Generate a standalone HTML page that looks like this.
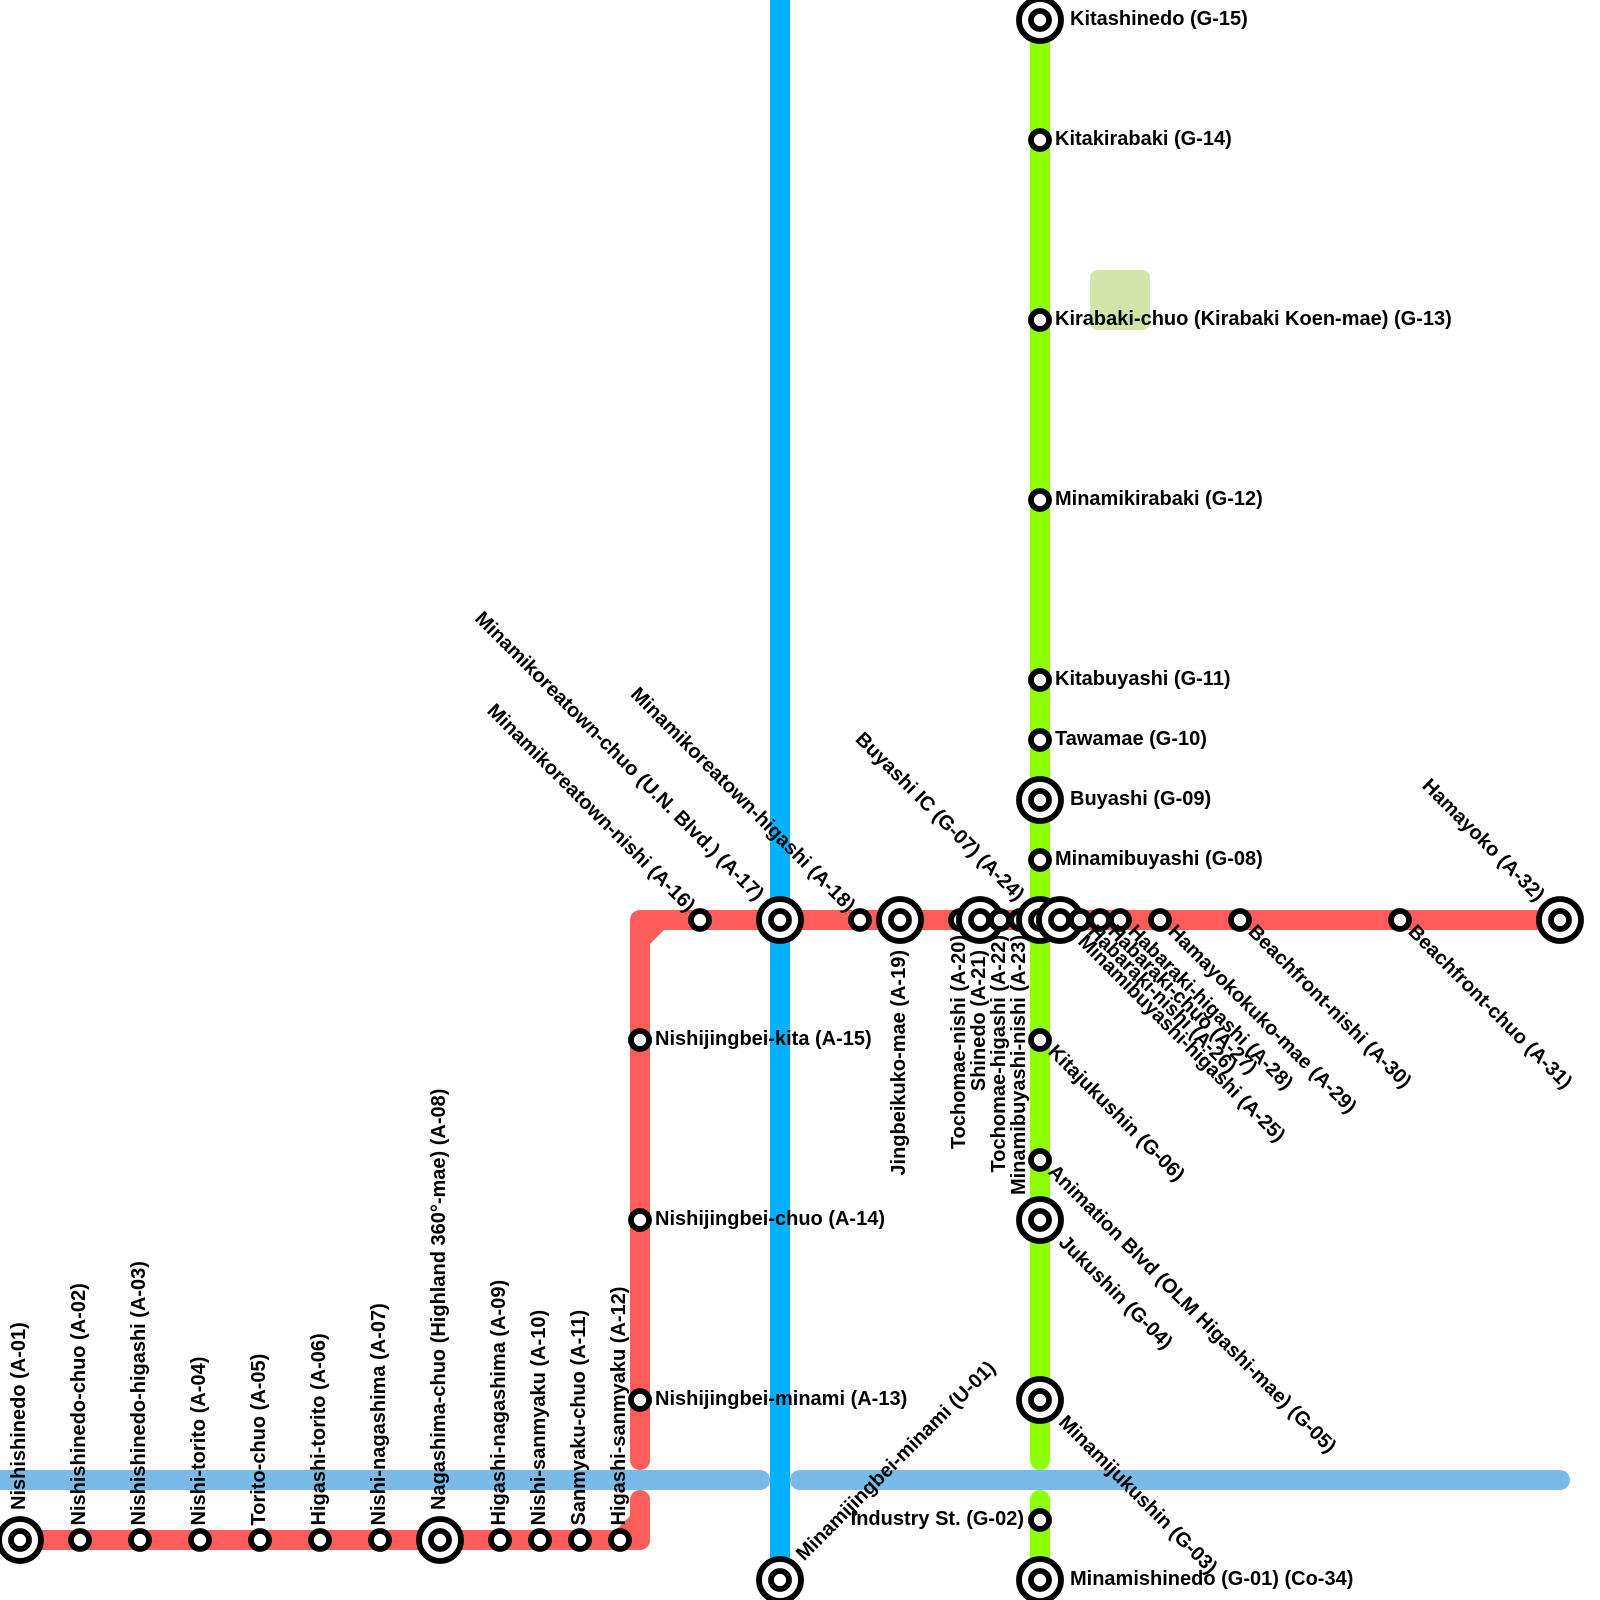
<!DOCTYPE html>
<html><head><meta charset="utf-8"><style>
html,body{margin:0;padding:0;background:#fff;width:1600px;height:1600px;overflow:hidden}
svg{display:block}
text{font-family:"Liberation Sans",sans-serif;font-weight:700;font-size:20px;fill:#000}
.l{fill:none;stroke-width:20;stroke-linecap:round;stroke-linejoin:round}
.s{fill:#fff;stroke:#000;stroke-width:5.8}
</style></head><body>
<svg width="1600" height="1600" viewBox="0 0 1600 1600" xmlns="http://www.w3.org/2000/svg">
<rect x="0" y="0" width="1600" height="1600" fill="#fff"/>
<rect x="1090" y="270" width="60" height="60" rx="8" fill="#d1e5a8"/>
<path class="l" stroke="#79bbe8" d="M-20,1480H760M800,1480H1560"/>
<path d="M780,0V1580" fill="none" stroke="#00b2ff" stroke-width="20"/>
<path class="l" stroke="#8cff00" d="M1040,20V1460M1040,1500V1580"/>
<path class="l" stroke="#ff5c5c" d="M20,1540H640V1500M640,1460V920H1560"/>
<polygon fill="#ff5c5c" points="650,930 664,930 650,944"/>
<polygon fill="#ff5c5c" points="630,1530 616,1530 630,1516"/>
<g class="s">
<circle cx="20" cy="1540" r="21"/><circle cx="20" cy="1540" r="9"/>
<circle cx="80" cy="1540" r="9"/><circle cx="140" cy="1540" r="9"/><circle cx="200" cy="1540" r="9"/><circle cx="260" cy="1540" r="9"/><circle cx="320" cy="1540" r="9"/><circle cx="380" cy="1540" r="9"/>
<circle cx="440" cy="1540" r="21"/><circle cx="440" cy="1540" r="9"/>
<circle cx="500" cy="1540" r="9"/><circle cx="540" cy="1540" r="9"/><circle cx="580" cy="1540" r="9"/><circle cx="620" cy="1540" r="9"/>
<circle cx="640" cy="1400" r="9"/><circle cx="640" cy="1220" r="9"/><circle cx="640" cy="1040" r="9"/>
<circle cx="700" cy="920" r="9"/>
<circle cx="780" cy="920" r="21"/><circle cx="780" cy="920" r="9"/>
<circle cx="860" cy="920" r="9"/>
<circle cx="900" cy="920" r="21"/><circle cx="900" cy="920" r="9"/>
<circle cx="960" cy="920" r="9"/>
<circle cx="980" cy="920" r="21"/><circle cx="980" cy="920" r="9"/>
<circle cx="1000" cy="920" r="9"/><circle cx="1020" cy="920" r="9"/>
<circle cx="1040" cy="920" r="21"/><circle cx="1040" cy="920" r="9"/>
<circle cx="1060" cy="920" r="21"/><circle cx="1060" cy="920" r="9"/>
<circle cx="1080" cy="920" r="9"/><circle cx="1100" cy="920" r="9"/><circle cx="1120" cy="920" r="9"/><circle cx="1160" cy="920" r="9"/><circle cx="1240" cy="920" r="9"/><circle cx="1400" cy="920" r="9"/>
<circle cx="1560" cy="920" r="21"/><circle cx="1560" cy="920" r="9"/>
<circle cx="1040" cy="20" r="21"/><circle cx="1040" cy="20" r="9"/>
<circle cx="1040" cy="140" r="9"/><circle cx="1040" cy="320" r="9"/><circle cx="1040" cy="500" r="9"/><circle cx="1040" cy="680" r="9"/><circle cx="1040" cy="740" r="9"/>
<circle cx="1040" cy="800" r="21"/><circle cx="1040" cy="800" r="9"/>
<circle cx="1040" cy="860" r="9"/><circle cx="1040" cy="1040" r="9"/><circle cx="1040" cy="1160" r="9"/>
<circle cx="1040" cy="1220" r="21"/><circle cx="1040" cy="1220" r="9"/>
<circle cx="1040" cy="1400" r="21"/><circle cx="1040" cy="1400" r="9"/>
<circle cx="1040" cy="1520" r="9"/>
<circle cx="1040" cy="1580" r="21"/><circle cx="1040" cy="1580" r="9"/>
<circle cx="780" cy="1580" r="21"/><circle cx="780" cy="1580" r="9"/>
</g>
<g>
<text transform="translate(20,1540) rotate(-90)" x="30" y="5">Nishishinedo (A-01)</text>
<text transform="translate(80,1540) rotate(-90)" x="14.5" y="5">Nishishinedo-chuo (A-02)</text>
<text transform="translate(140,1540) rotate(-90)" x="14.5" y="5">Nishishinedo-higashi (A-03)</text>
<text transform="translate(200,1540) rotate(-90)" x="14.5" y="5">Nishi-torito (A-04)</text>
<text transform="translate(260,1540) rotate(-90)" x="14.5" y="5">Torito-chuo (A-05)</text>
<text transform="translate(320,1540) rotate(-90)" x="14.5" y="5">Higashi-torito (A-06)</text>
<text transform="translate(380,1540) rotate(-90)" x="14.5" y="5">Nishi-nagashima (A-07)</text>
<text transform="translate(440,1540) rotate(-90)" x="30" y="5">Nagashima-chuo (Highland 360°-mae) (A-08)</text>
<text transform="translate(500,1540) rotate(-90)" x="14.5" y="5">Higashi-nagashima (A-09)</text>
<text transform="translate(540,1540) rotate(-90)" x="14.5" y="5">Nishi-sanmyaku (A-10)</text>
<text transform="translate(580,1540) rotate(-90)" x="14.5" y="5">Sanmyaku-chuo (A-11)</text>
<text transform="translate(620,1540) rotate(-90)" x="14.5" y="5">Higashi-sanmyaku (A-12)</text>
<text x="655" y="1405">Nishijingbei-minami (A-13)</text>
<text x="655" y="1225">Nishijingbei-chuo (A-14)</text>
<text x="655" y="1045">Nishijingbei-kita (A-15)</text>
<text transform="translate(700,920) rotate(45)" x="-14" y="4" text-anchor="end">Minamikoreatown-nishi (A-16)</text>
<text transform="translate(780,920) rotate(45)" x="-30" y="4" text-anchor="end">Minamikoreatown-chuo (U.N. Blvd.) (A-17)</text>
<text transform="translate(860,920) rotate(45)" x="-14" y="4" text-anchor="end">Minamikoreatown-higashi (A-18)</text>
<text transform="translate(900,920) rotate(-90)" x="-30" y="5" text-anchor="end">Jingbeikuko-mae (A-19)</text>
<text transform="translate(960,920) rotate(-90)" x="-15" y="5" text-anchor="end">Tochomae-nishi (A-20)</text>
<text transform="translate(980,920) rotate(-90)" x="-30" y="5" text-anchor="end">Shinedo (A-21)</text>
<text transform="translate(1000,920) rotate(-90)" x="-15" y="5" text-anchor="end">Tochomae-higashi (A-22)</text>
<text transform="translate(1020,920) rotate(-90)" x="-15" y="5" text-anchor="end">Minamibuyashi-nishi (A-23)</text>
<text transform="translate(1040,920) rotate(45)" x="-29.5" y="4" text-anchor="end">Buyashi IC (G-07) (A-24)</text>
<text transform="translate(1060,920) rotate(45)" x="28" y="4">Minamibuyashi-higashi (A-25)</text>
<text transform="translate(1080,920) rotate(45)" x="14" y="4">Habaraki-nishi (A-26)</text>
<text transform="translate(1100,920) rotate(45)" x="14" y="4">Habaraki-chuo (A-27)</text>
<text transform="translate(1120,920) rotate(45)" x="14" y="4">Habaraki-higashi (A-28)</text>
<text transform="translate(1160,920) rotate(45)" x="14" y="4">Hamayokokuko-mae (A-29)</text>
<text transform="translate(1240,920) rotate(45)" x="14" y="4">Beachfront-nishi (A-30)</text>
<text transform="translate(1400,920) rotate(45)" x="14" y="4">Beachfront-chuo (A-31)</text>
<text transform="translate(1560,920) rotate(45)" x="-29" y="4" text-anchor="end">Hamayoko (A-32)</text>
<text x="1070" y="25">Kitashinedo (G-15)</text>
<text x="1055" y="145">Kitakirabaki (G-14)</text>
<text x="1055" y="325">Kirabaki-chuo (Kirabaki Koen-mae) (G-13)</text>
<text x="1055" y="505">Minamikirabaki (G-12)</text>
<text x="1055" y="685">Kitabuyashi (G-11)</text>
<text x="1055" y="745">Tawamae (G-10)</text>
<text x="1070" y="805">Buyashi (G-09)</text>
<text x="1055" y="865">Minamibuyashi (G-08)</text>
<text transform="translate(1040,1040) rotate(45)" x="14" y="4">Kitajukushin (G-06)</text>
<text transform="translate(1040,1160) rotate(45)" x="14" y="4">Animation Blvd (OLM Higashi-mae) (G-05)</text>
<text transform="translate(1040,1220) rotate(45)" x="29" y="4">Jukushin (G-04)</text>
<text transform="translate(1040,1400) rotate(45)" x="29" y="4">Minamijukushin (G-03)</text>
<text x="1024" y="1525" text-anchor="end">Industry St. (G-02)</text>
<text x="1070" y="1585">Minamishinedo (G-01) (Co-34)</text>
<text transform="translate(780,1580) rotate(-45)" x="30" y="4">Minamijingbei-minami (U-01)</text>
</g>
</svg>
</body></html>
